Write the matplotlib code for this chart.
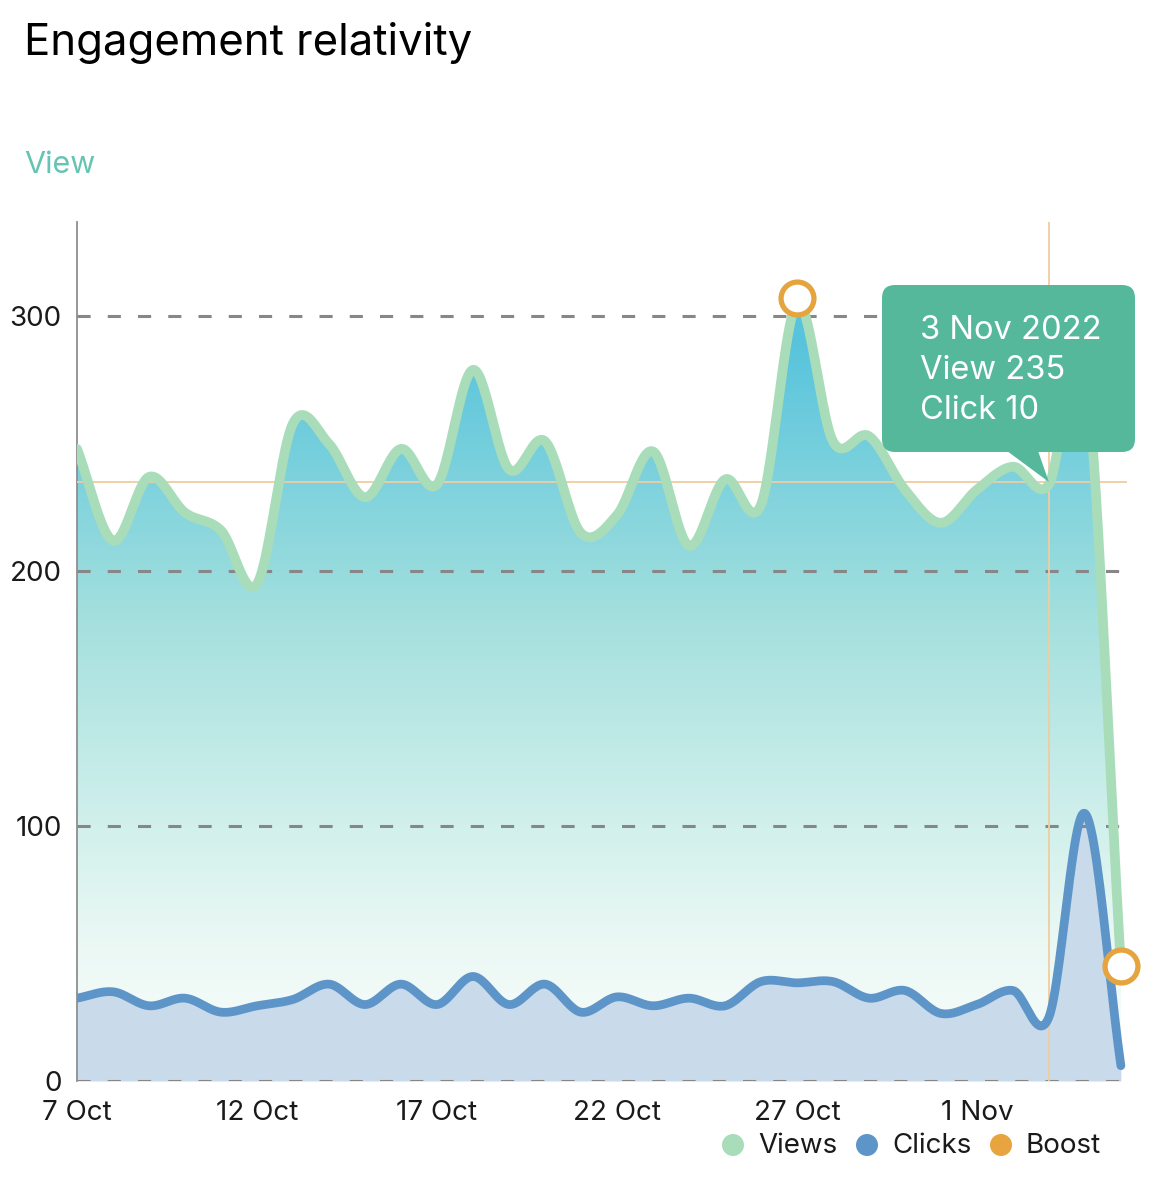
import numpy as np
import matplotlib
matplotlib.use('Agg')
import matplotlib.pyplot as plt
from matplotlib.colors import LinearSegmentedColormap
from matplotlib.patches import FancyBboxPatch, Polygon, Circle

plt.rcParams['font.family'] = ['Inter', 'DejaVu Sans']

# daily values, 7 Oct .. 5 Nov 2022
views = [248, 212, 237, 223, 216, 195, 258, 250, 229, 248,
         234, 279, 240, 251, 215, 222, 247, 210, 236, 226,
         305, 251, 253, 232, 219, 232, 241, 234, 282, 45]
clicks = [32.5, 35, 29.5, 32.5, 27, 29.5, 32, 38, 30, 38,
          30, 41, 30, 38, 27, 33, 29.5, 32.5, 29.5, 39,
          38.5, 39, 32.5, 35.5, 26.5, 30, 35.5, 25, 105, 6]
boost_idx = [20, 29]
boost_vals = [307, 45]

tick_idx = [0, 5, 10, 15, 20, 25]
tick_labels = ['7 Oct', '12 Oct', '17 Oct', '22 Oct', '27 Oct', '1 Nov']
y_ticks = [0, 100, 200, 300]

tip_idx = 27
tip_view = 235
tip_lines = ['3 Nov 2022', 'View 235', 'Click 10']

legend_items = ['Views', 'Clicks', 'Boost']
legend_colors = ['#a9ddb9', '#5e95c9', '#e7a43f']


def smooth(x, y, n=24):
    # catmull-rom style cubic through the daily points
    x = np.asarray(x, float)
    y = np.asarray(y, float)
    h = np.diff(x)
    m = np.empty_like(y)
    m[1:-1] = (y[2:] - y[:-2]) / (x[2:] - x[:-2])
    m[0] = (y[1] - y[0]) / h[0]
    m[-1] = (y[-1] - y[-2]) / h[-1]
    xs, ys = [], []
    t = np.linspace(0, 1, n, endpoint=False)
    h00 = 2 * t**3 - 3 * t**2 + 1
    h10 = t**3 - 2 * t**2 + t
    h01 = -2 * t**3 + 3 * t**2
    h11 = t**3 - t**2
    for k in range(len(h)):
        xs.append(x[k] + t * h[k])
        ys.append(h00 * y[k] + h10 * h[k] * m[k] + h01 * y[k + 1] + h11 * h[k] * m[k + 1])
    xs.append([x[-1]])
    ys.append([y[-1]])
    return np.concatenate(xs), np.concatenate(ys)


W, H = 1158, 1200
fig = plt.figure(figsize=(W / 100, H / 100), dpi=100)
ax = fig.add_axes([77 / W, 1 - 1081 / H, (1127 - 77) / W, (1081 - 222) / H])

x = np.arange(len(views))
xs, vs = smooth(x, views)
_, cs = smooth(x, clicks)

# gradient under views
vmax = 310
stops = [(0.0, (250, 253, 252)), (55 / vmax, (234, 248, 244)), (110 / vmax, (204, 238, 234)),
         (181 / vmax, (164, 224, 222)), (290 / vmax, (88, 196, 220)), (1.0, (86, 195, 220))]
cmap = LinearSegmentedColormap.from_list('v', [(p, tuple(c / 255 for c in col)) for p, col in stops])
grad = np.linspace(0, 1, 256).reshape(-1, 1)
im = ax.imshow(grad, cmap=cmap, origin='lower', aspect='auto',
               extent=[x[0], x[-1], 0, vmax], zorder=1, interpolation='bilinear')
verts = np.column_stack([np.r_[xs, xs[::-1]], np.r_[vs, np.zeros_like(vs)]])
clip = Polygon(verts, closed=True, facecolor='none', edgecolor='none')
ax.add_patch(clip)
im.set_clip_path(clip)

ax.fill_between(xs, cs, 0, color='#c9daea', lw=0, zorder=2)

for yv in y_ticks:
    ax.axhline(yv, color='#878787', lw=2.2, dashes=(4.3, 5.6), zorder=3)

ax.axvline(tip_idx, color='#efcd9f', lw=1.3, zorder=3.5)
ax.axhline(tip_view, color='#efcd9f', lw=1.3, zorder=3.5)

ax.plot(xs, vs, color='#a9ddb9', lw=7, zorder=4, solid_capstyle='round')
ax.plot(xs, cs, color='#5e95c9', lw=6.3, zorder=5, solid_capstyle='round')

ax.scatter(boost_idx, boost_vals, s=560, facecolor='white', edgecolor='#e6a43e',
           linewidth=3.8, zorder=6, clip_on=False)

ax.set_xlim(0, 29.17)
ax.set_ylim(0, 337)
ax.set_yticks(y_ticks)
ax.set_xticks(tick_idx)
ax.set_xticklabels(tick_labels)
ax.tick_params(length=0, labelsize=20, colors='#1a1a1a')
ax.tick_params(axis='y', pad=11)
ax.tick_params(axis='x', pad=14)
for s in ['top', 'right', 'bottom']:
    ax.spines[s].set_visible(False)
ax.spines['left'].set_color('#8f8f8f')
ax.spines['left'].set_linewidth(1.3)
ax.patch.set_alpha(0)

# overlay in pixel units for title, tooltip, legend
ov = fig.add_axes([0, 0, 1, 1], zorder=10)
ov.set_xlim(0, W)
ov.set_ylim(H, 0)
ov.axis('off')
ov.patch.set_alpha(0)

ov.text(24, 55, 'Engagement relativity', fontsize=31.5, color='black', va='baseline')
ov.text(24, 173, 'View', fontsize=22, color='#66c4b2', va='baseline')

tip = ov.transData.inverted().transform(ax.transData.transform((tip_idx, tip_view)))
ov.add_patch(Polygon([(1003, 448), (1037, 448), tuple(tip)], closed=True,
                     facecolor='#56b89b', edgecolor='none', zorder=11))
ov.add_patch(FancyBboxPatch((882, 285), 253, 167, boxstyle='round,pad=0,rounding_size=13',
                            facecolor='#56b89b', edgecolor='none', zorder=11))
for i, line in enumerate(tip_lines):
    ov.text(920, 339 + 40 * i, line, fontsize=23.5, color='white', va='baseline', zorder=12)

for i, (name, col) in enumerate(zip(legend_items, legend_colors)):
    cx = 733 + 134 * i
    ov.add_patch(Circle((cx, 1145), 11, facecolor=col, edgecolor='none'))
    ov.text(cx + 25, 1146, name, fontsize=20, color='#1a1a1a', va='center')

fig.savefig('out.png', dpi=100)
